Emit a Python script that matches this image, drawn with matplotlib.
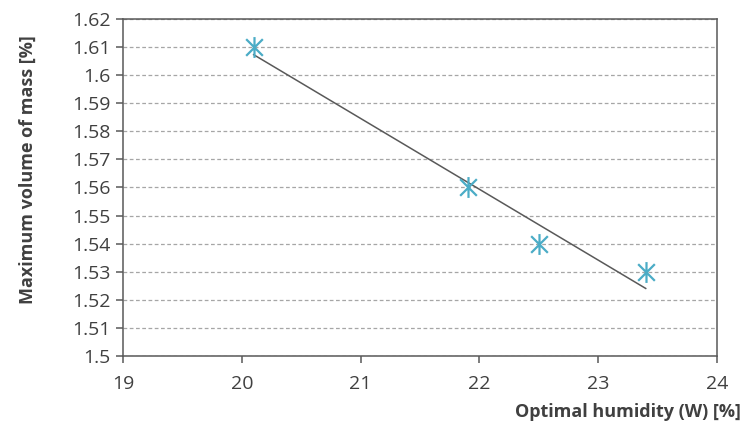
import numpy as np
import matplotlib
matplotlib.use("Agg")
import matplotlib.pyplot as plt
from matplotlib.path import Path

humidity = [20.1, 21.9, 22.5, 23.4]
volume = [1.61, 1.56, 1.54, 1.53]
x_ticks = [19, 20, 21, 22, 23, 24]
y_ticks = [1.5, 1.51, 1.52, 1.53, 1.54, 1.55, 1.56, 1.57, 1.58, 1.59, 1.6, 1.61, 1.62]
y_tick_labels = ["1.5", "1.51", "1.52", "1.53", "1.54", "1.55", "1.56", "1.57", "1.58", "1.59", "1.6", "1.61", "1.62"]

plt.rcParams['font.family'] = ['Open Sans', 'DejaVu Sans']

fig = plt.figure(figsize=(7.43, 4.25), dpi=100)
ax = fig.add_axes([0.1655, 0.1624, 0.7995, 0.7929])

star = Path([(0, -1), (0, 1), (-0.8, -0.8), (0.8, 0.8), (-0.8, 0.8), (0.8, -0.8)],
            [Path.MOVETO, Path.LINETO, Path.MOVETO, Path.LINETO, Path.MOVETO, Path.LINETO])

coef = np.polyfit(humidity, volume, 1)
xs = np.array([min(humidity), max(humidity)])
ax.plot(xs, np.polyval(coef, xs), color="#595959", lw=1.1, zorder=3)
ax.plot(humidity, volume, linestyle="none", marker=star, markersize=15,
        markeredgewidth=1.6, color="#4BACC6", zorder=4)

ax.set_xlim(19, 24)
ax.set_ylim(1.5, 1.62)
ax.set_xticks(x_ticks)
ax.set_yticks(y_ticks)
ax.set_yticklabels(y_tick_labels)
ax.yaxis.grid(True, linestyle=(0, (3, 2)), color="#A6A6A6", lw=0.9)
ax.set_axisbelow(True)
for s in ax.spines.values():
    s.set_color("#595959")
    s.set_linewidth(1.1)
ax.tick_params(direction="out", length=5, width=1.1, color="#595959",
               labelsize=14, labelcolor="#404040", pad=4)
ax.tick_params(axis="x", pad=9)

fig.text(0.037, 0.6, "Maximum volume of mass [%]", rotation=90, ha="center", va="center",
         fontsize=13, fontweight="bold", color="#404040")
fig.text(0.997, 0.03, "Optimal humidity (W) [%]", ha="right", va="center",
         fontsize=13, fontweight="bold", color="#404040")

fig.savefig("out.png", dpi=100)
